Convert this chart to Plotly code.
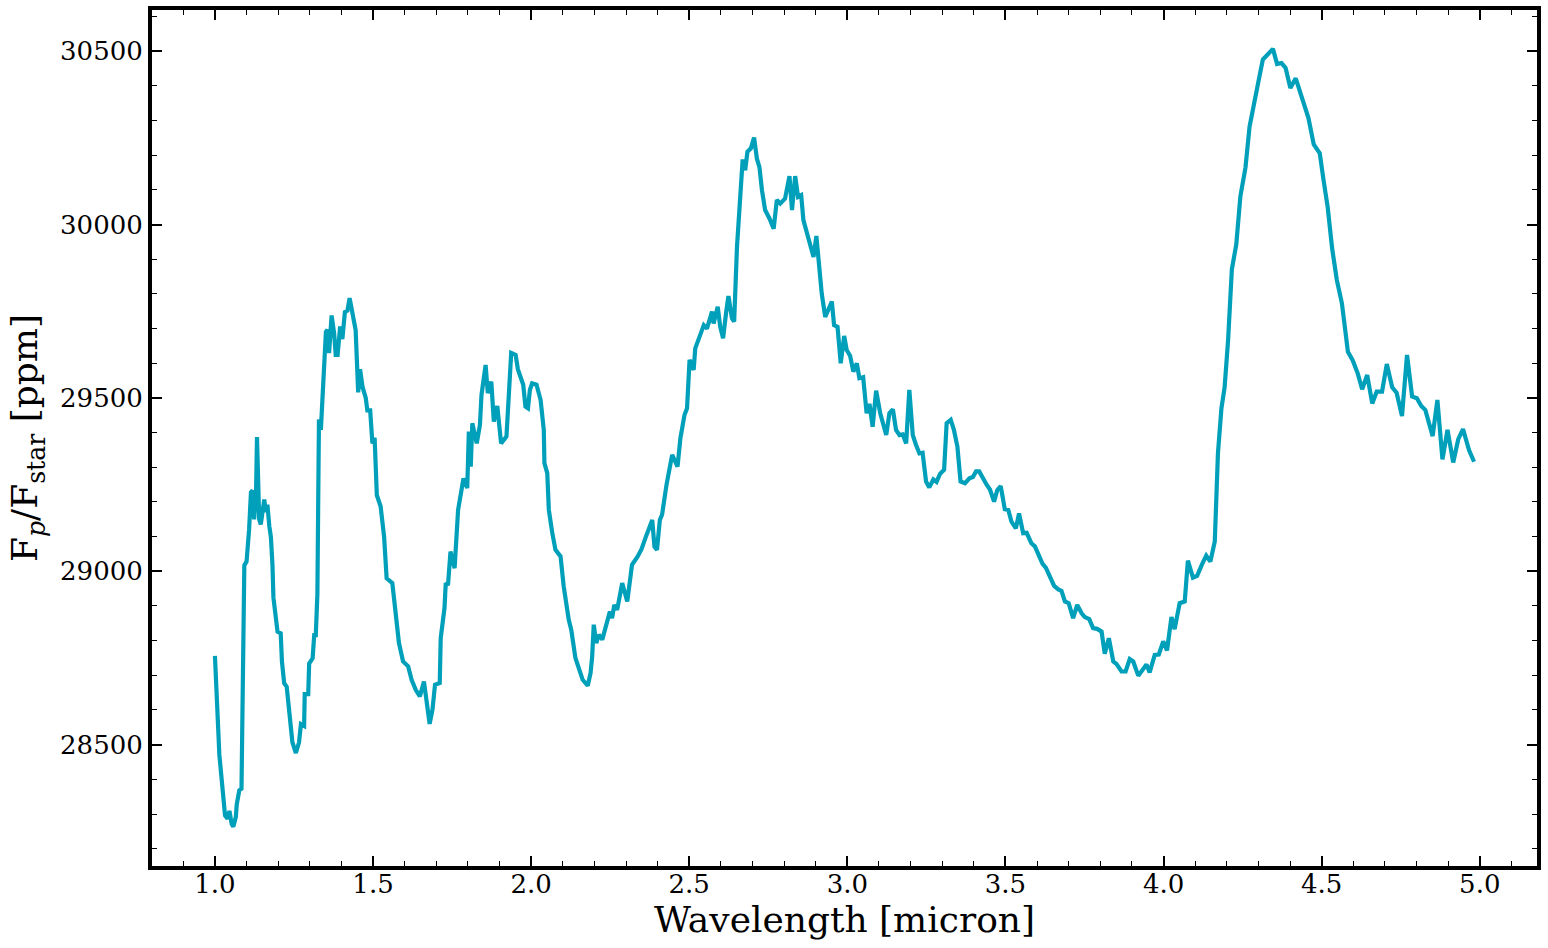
import plotly.graph_objects as go

wavelength = [
    1.000, 1.014, 1.032, 1.040, 1.046, 1.053, 1.058, 1.066, 1.069, 1.077, 1.084, 1.089, 1.093, 1.100,
    1.108, 1.114, 1.119, 1.124, 1.130, 1.133, 1.137, 1.140, 1.145, 1.151, 1.156, 1.161, 1.166, 1.172,
    1.177, 1.182, 1.185, 1.198, 1.208, 1.212, 1.219, 1.227, 1.235, 1.245, 1.256, 1.266, 1.272, 1.282,
    1.284, 1.295, 1.298, 1.309, 1.314, 1.319, 1.324, 1.329, 1.335, 1.340, 1.351, 1.356, 1.361, 1.369,
    1.377, 1.382, 1.388, 1.396, 1.403, 1.411, 1.419, 1.426, 1.435, 1.440, 1.445, 1.453, 1.459, 1.467,
    1.477, 1.482, 1.491, 1.498, 1.505, 1.512, 1.524, 1.535, 1.543, 1.561, 1.569, 1.582, 1.595, 1.611,
    1.622, 1.635, 1.648, 1.661, 1.679, 1.688, 1.696, 1.711, 1.714, 1.726, 1.730, 1.737, 1.745, 1.758,
    1.769, 1.775, 1.786, 1.798, 1.803, 1.809, 1.814, 1.828, 1.838, 1.843, 1.856, 1.863, 1.874, 1.882,
    1.893, 1.905, 1.922, 1.937, 1.951, 1.958, 1.975, 1.982, 1.990, 1.996, 2.003, 2.017, 2.030, 2.040,
    2.042, 2.051, 2.056, 2.067, 2.077, 2.093, 2.103, 2.119, 2.127, 2.140, 2.156, 2.163, 2.179, 2.188,
    2.193, 2.198, 2.206, 2.214, 2.225, 2.240, 2.249, 2.256, 2.263, 2.272, 2.288, 2.304, 2.319, 2.337,
    2.349, 2.365, 2.383, 2.390, 2.398, 2.407, 2.414, 2.428, 2.446, 2.463, 2.472, 2.485, 2.493, 2.501,
    2.514, 2.519, 2.538, 2.546, 2.556, 2.572, 2.577, 2.590, 2.598, 2.607, 2.617, 2.624, 2.635, 2.642,
    2.651, 2.661, 2.669, 2.677, 2.684, 2.695, 2.705, 2.714, 2.722, 2.730, 2.740, 2.754, 2.767, 2.777,
    2.788, 2.803, 2.817, 2.825, 2.835, 2.844, 2.854, 2.861, 2.872, 2.883, 2.893, 2.902, 2.909, 2.919,
    2.930, 2.951, 2.958, 2.969, 2.979, 2.990, 2.998, 3.009, 3.019, 3.030, 3.038, 3.050, 3.061, 3.070,
    3.080, 3.091, 3.104, 3.114, 3.123, 3.133, 3.144, 3.154, 3.165, 3.175, 3.186, 3.196, 3.207, 3.217,
    3.228, 3.238, 3.249, 3.259, 3.272, 3.282, 3.293, 3.306, 3.314, 3.327, 3.337, 3.348, 3.358, 3.372,
    3.386, 3.397, 3.407, 3.417, 3.428, 3.441, 3.451, 3.464, 3.474, 3.485, 3.498, 3.509, 3.519, 3.533,
    3.543, 3.556, 3.567, 3.582, 3.593, 3.604, 3.617, 3.628, 3.641, 3.654, 3.667, 3.677, 3.688, 3.700,
    3.714, 3.727, 3.741, 3.751, 3.765, 3.777, 3.790, 3.804, 3.814, 3.827, 3.841, 3.851, 3.867, 3.880,
    3.893, 3.904, 3.920, 3.933, 3.946, 3.956, 3.972, 3.985, 3.999, 4.011, 4.025, 4.035, 4.051, 4.067,
    4.077, 4.093, 4.106, 4.123, 4.135, 4.148, 4.162, 4.172, 4.183, 4.193, 4.204, 4.216, 4.230, 4.243,
    4.259, 4.272, 4.288, 4.302, 4.314, 4.330, 4.346, 4.359, 4.373, 4.386, 4.401, 4.418, 4.435, 4.458,
    4.475, 4.494, 4.506, 4.519, 4.533, 4.548, 4.564, 4.575, 4.583, 4.598, 4.614, 4.628, 4.644, 4.660,
    4.674, 4.691, 4.706, 4.723, 4.737, 4.754, 4.770, 4.786, 4.801, 4.815, 4.828, 4.851, 4.866, 4.882,
    4.898, 4.916, 4.932, 4.947, 4.966, 4.982,
]

fp_fstar_ppm = [
    28756, 28471, 28296, 28286, 28309, 28271, 28263, 28291, 28327, 28368, 28373, 28914, 29017, 29028,
    29120, 29228, 29233, 29150, 29222, 29387, 29222, 29150, 29135, 29181, 29207, 29171, 29192, 29130,
    29099, 29017, 28924, 28826, 28821, 28739, 28677, 28667, 28595, 28507, 28476, 28507, 28559, 28554,
    28646, 28646, 28734, 28749, 28816, 28816, 28934, 29438, 29408, 29511, 29691, 29696, 29629, 29738,
    29686, 29624, 29624, 29706, 29670, 29748, 29752, 29788, 29742, 29716, 29696, 29516, 29583, 29531,
    29500, 29464, 29464, 29369, 29385, 29220, 29187, 29100, 28980, 28966, 28894, 28793, 28740, 28726,
    28687, 28658, 28639, 28682, 28560, 28601, 28673, 28678, 28807, 28894, 28966, 28960, 29057, 29009,
    29177, 29216, 29268, 29240, 29403, 29302, 29427, 29369, 29422, 29509, 29595, 29514, 29547, 29432,
    29477, 29369, 29389, 29630, 29624, 29583, 29538, 29475, 29470, 29523, 29542, 29538, 29494, 29408,
    29312, 29283, 29177, 29110, 29062, 29043, 28956, 28860, 28831, 28750, 28707, 28687, 28670, 28707,
    28754, 28846, 28793, 28817, 28803, 28855, 28884, 28865, 28903, 28889, 28966, 28913, 29019, 29043,
    29064, 29105, 29148, 29071, 29062, 29148, 29163, 29249, 29336, 29302, 29384, 29451, 29470, 29610,
    29581, 29643, 29691, 29710, 29700, 29749, 29715, 29763, 29705, 29672, 29749, 29794, 29730, 29720,
    29936, 30100, 30188, 30157, 30210, 30220, 30251, 30190, 30166, 30099, 30042, 30017, 29988, 30071,
    30061, 30075, 30140, 30042, 30140, 30080, 30085, 30013, 29979, 29941, 29907, 29967, 29888, 29801,
    29734, 29778, 29710, 29705, 29600, 29679, 29638, 29621, 29576, 29600, 29557, 29560, 29456, 29483,
    29417, 29521, 29456, 29427, 29393, 29456, 29467, 29408, 29393, 29395, 29369, 29523, 29393, 29365,
    29340, 29342, 29259, 29242, 29265, 29258, 29281, 29293, 29427, 29437, 29408, 29360, 29259, 29254,
    29268, 29272, 29288, 29288, 29268, 29249, 29236, 29201, 29234, 29246, 29179, 29177, 29143, 29124,
    29167, 29110, 29111, 29081, 29072, 29048, 29022, 29010, 28980, 28958, 28948, 28944, 28913, 28908,
    28865, 28903, 28879, 28868, 28862, 28836, 28834, 28826, 28762, 28807, 28740, 28733, 28711, 28711,
    28747, 28740, 28699, 28716, 28731, 28708, 28759, 28760, 28798, 28772, 28868, 28833, 28908, 28913,
    29031, 28982, 28987, 29023, 29045, 29028, 29086, 29340, 29470, 29530, 29665, 29871, 29943, 30082,
    30164, 30283, 30350, 30422, 30476, 30490, 30507, 30463, 30466, 30452, 30394, 30422, 30375, 30308,
    30231, 30206, 30128, 30051, 29932, 29840, 29773, 29686, 29633, 29609, 29571, 29525, 29566, 29484,
    29518, 29518, 29598, 29531, 29515, 29448, 29624, 29504, 29499, 29477, 29465, 29390, 29494, 29323,
    29408, 29314, 29381, 29410, 29350, 29316,
]

x_title = "Wavelength [micron]"
y_title = "F<sub><i>p</i></sub>/F<sub>star</sub> [ppm]"

font_family = "DejaVu Serif"

fig = go.Figure()
fig.add_trace(go.Scatter(
    x=wavelength, y=fp_fstar_ppm, mode="lines",
    line=dict(color="#00A0BA", width=4.2),
    showlegend=False,
))

axis_common = dict(
    showgrid=False, zeroline=False,
    showline=True, linecolor="black", linewidth=4, mirror="allticks",
    ticks="inside", ticklen=10, tickwidth=1.5, tickcolor="black",
    tickfont=dict(family=font_family, size=26, color="black"),
)

fig.update_xaxes(
    **axis_common,
    range=[0.801, 5.181], tick0=0.0, dtick=0.5, tickformat=".1f",
    ticklabelstandoff=-8,
    minor=dict(ticks="inside", ticklen=5, tickwidth=1.2, tickcolor="black", dtick=0.1, tick0=0.0),
    title=dict(text=x_title, font=dict(family=font_family, size=36, color="black"), standoff=0),
)
fig.update_yaxes(
    **axis_common,
    range=[28150, 30619], tick0=28500, dtick=500, tickformat="d",
    minor=dict(ticks="inside", ticklen=5, tickwidth=1.2, tickcolor="black", dtick=100, tick0=28500),
    title=dict(text=y_title, font=dict(family=font_family, size=36, color="black"), standoff=12),
)

fig.update_layout(
    width=1548, height=948,
    margin=dict(l=152, r=11, t=10, b=82, autoexpand=False),
    plot_bgcolor="white", paper_bgcolor="white",
    font=dict(family=font_family, color="black"),
)

fig.write_html("out.html")
